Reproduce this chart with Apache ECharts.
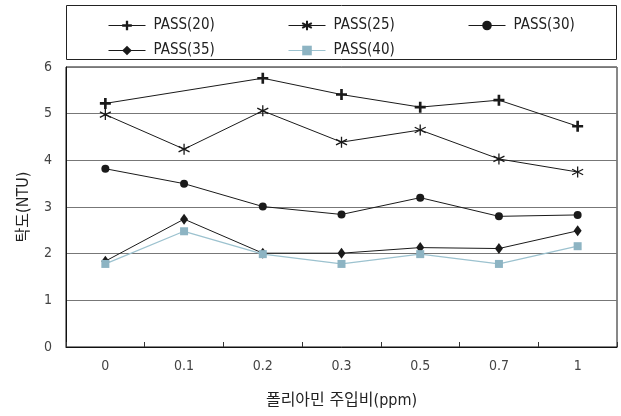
<!DOCTYPE html>
<html>
<head>
<meta charset="utf-8">
<script src="https://cdn.jsdelivr.net/npm/echarts@6/dist/echarts.min.js"></script>
<style>html,body{margin:0;padding:0;background:#fff}#c{width:621px;height:416px}</style>
</head>
<body>
<div id="c"></div>
<script>
const categories = ['0', '0.1', '0.2', '0.3', '0.5', '0.7', '1'];
const pass20 = [5.22, null, 5.76, 5.41, 5.14, 5.29, 4.73];
const pass25 = [4.98, 4.24, 5.06, 4.39, 4.65, 4.03, 3.75];
const pass30 = [3.82, 3.50, 3.01, 2.84, 3.20, 2.80, 2.83];
const pass35 = [1.84, 2.74, 2.01, 2.01, 2.13, 2.11, 2.49];
const pass40 = [1.78, 2.48, 1.99, 1.78, 1.99, 1.78, 2.16];
const seriesNames = ['PASS(20)', 'PASS(25)', 'PASS(30)', 'PASS(35)', 'PASS(40)'];
const yTicks = [0, 1, 2, 3, 4, 5, 6];

const FONT = '"DejaVu Sans Condensed", "Noto Sans CJK KR", sans-serif';
const dark = '#1a1a1a';
const blue = '#8db4c3';
const plusPath = 'path://M-1.2,-5H1.2V-1.2H5V1.2H1.2V5H-1.2V1.2H-5V-1.2H-1.2Z';
const starPath = 'path://M0,-5L0,5M-4.3,-2.5L4.3,2.5M-4.3,2.5L4.3,-2.5';
const diamondPath = 'path://M0,-5L3.5,0L0,5L-3.5,0Z';

const chart = echarts.init(document.getElementById('c'), null, {renderer: 'canvas'});

function mkLegend(name, left, top) {
  return {
    data: [name], left: left, top: top, itemWidth: 37, itemHeight: 12,
    lineStyle: {width: 1},
    textStyle: {fontFamily: FONT, fontSize: 15, color: '#222', padding: [0, 0, 0, 3]},
    selectedMode: false
  };
}

const option = {
  backgroundColor: '#fff',
  animation: false,
  graphic: [{
    type: 'rect', shape: {x: 66.5, y: 5.5, width: 550, height: 54},
    style: {fill: 'none', stroke: '#222', lineWidth: 1}, silent: true
  }],
  legend: [
    mkLegend(seriesNames[0], 103, 13),
    mkLegend(seriesNames[1], 283, 13),
    mkLegend(seriesNames[2], 463, 13),
    mkLegend(seriesNames[3], 103, 38),
    mkLegend(seriesNames[4], 283, 38)
  ],
  grid: {left: 66, right: 4, top: 67, bottom: 69, show: true, borderColor: '#111', borderWidth: 1, containLabel: false},
  xAxis: {
    type: 'category', data: categories, boundaryGap: true,
    name: '폴리아민 주입비(ppm)', nameLocation: 'middle', nameGap: 46,
    nameTextStyle: {fontFamily: FONT, fontSize: 16, color: '#222'},
    axisLine: {show: true, lineStyle: {color: '#111', width: 1}},
    axisTick: {show: true, inside: true, length: 5, interval: 0, lineStyle: {color: '#333'}},
    axisLabel: {fontFamily: FONT, fontSize: 14, color: '#444', margin: 12, interval: 0}
  },
  yAxis: {
    type: 'value', min: yTicks[0], max: yTicks[yTicks.length - 1], interval: 1,
    name: '탁도(NTU)', nameLocation: 'middle', nameGap: 34, nameRotate: 90,
    nameTextStyle: {fontFamily: FONT, fontSize: 16, color: '#222'},
    axisLine: {show: true, lineStyle: {color: '#111', width: 1}},
    axisTick: {show: false},
    axisLabel: {fontFamily: FONT, fontSize: 14, color: '#444', margin: 14},
    splitLine: {show: true, lineStyle: {color: '#777', width: 1.2}}
  },
  series: [
    {name: seriesNames[0], type: 'line', data: pass20, connectNulls: true,
     symbol: plusPath, symbolSize: 11,
     lineStyle: {color: dark, width: 1}, itemStyle: {color: dark}},
    {name: seriesNames[1], type: 'line', data: pass25,
     symbol: starPath, symbolSize: 11,
     lineStyle: {color: dark, width: 1}, itemStyle: {color: 'none', borderColor: dark, borderWidth: 1.3}},
    {name: seriesNames[2], type: 'line', data: pass30,
     symbol: 'circle', symbolSize: 8,
     lineStyle: {color: dark, width: 1}, itemStyle: {color: dark}},
    {name: seriesNames[3], type: 'line', data: pass35,
     symbol: diamondPath, symbolSize: [8, 11],
     lineStyle: {color: dark, width: 1}, itemStyle: {color: dark}},
    {name: seriesNames[4], type: 'line', data: pass40,
     symbol: 'rect', symbolSize: 8,
     lineStyle: {color: '#9cc2cf', width: 1.3}, itemStyle: {color: blue}}
  ]
};
chart.setOption(option);
</script>
</body>
</html>
